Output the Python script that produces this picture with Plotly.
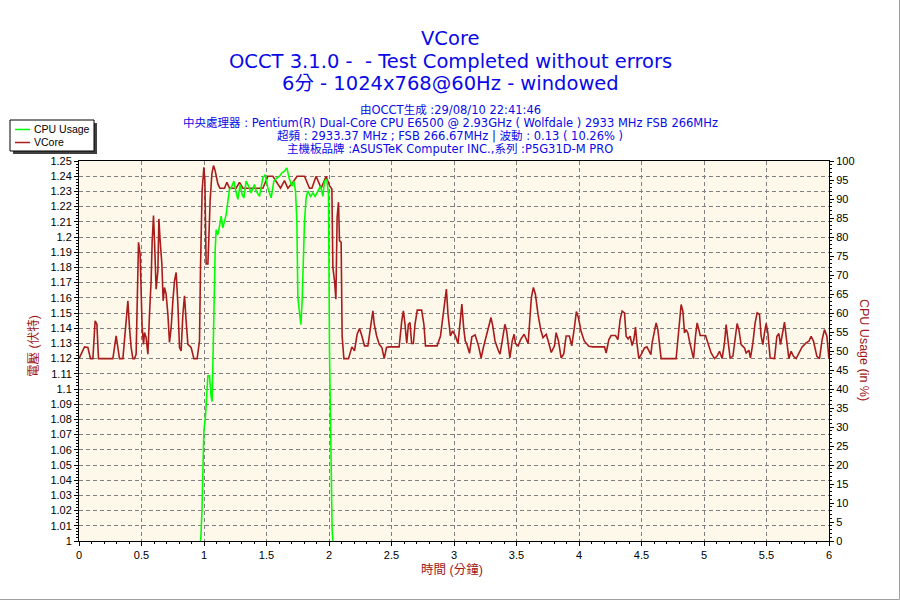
import plotly.graph_objects as go

# ---------------- data ----------------
time_vcore = [
    0.0, 0.044, 0.071, 0.092, 0.111, 0.129, 0.143, 0.156, 0.271, 0.297,
    0.311, 0.324, 0.351, 0.369, 0.391, 0.404, 0.417, 0.431, 0.444, 0.457,
    0.476, 0.489, 0.497, 0.505, 0.516, 0.524, 0.537, 0.551, 0.564, 0.577,
    0.585, 0.596, 0.604, 0.617, 0.631, 0.639, 0.649, 0.663, 0.673, 0.684,
    0.697, 0.711, 0.724, 0.737, 0.751, 0.764, 0.777, 0.791, 0.804, 0.817,
    0.831, 0.844, 0.857, 0.871, 0.897, 0.919, 0.945, 0.964, 0.972, 0.985,
    0.999, 1.007, 1.017, 1.031, 1.039, 1.049, 1.063, 1.076, 1.089, 1.111,
    1.127, 1.164, 1.183, 1.204, 1.231, 1.257, 1.284, 1.311, 1.471, 1.511,
    1.551, 1.591, 1.612, 1.644, 1.671, 1.711, 1.745, 1.804, 1.844, 1.863,
    1.897, 1.937, 1.977, 2.004, 2.023, 2.031, 2.044, 2.055, 2.065, 2.076,
    2.084, 2.097, 2.105, 2.119, 2.156, 2.183, 2.204, 2.225, 2.244, 2.263,
    2.284, 2.311, 2.329, 2.351, 2.362, 2.381, 2.402, 2.423, 2.442, 2.46,
    2.481, 2.561, 2.582, 2.595, 2.608, 2.622, 2.635, 2.648, 2.661, 2.675,
    2.688, 2.706, 2.741, 2.759, 2.772, 2.865, 2.892, 2.91, 2.926, 2.939,
    2.952, 2.971, 2.989, 3.011, 3.032, 3.05, 3.063, 3.077, 3.09, 3.103,
    3.124, 3.143, 3.169, 3.196, 3.217, 3.235, 3.262, 3.275, 3.296, 3.31,
    3.328, 3.354, 3.368, 3.386, 3.407, 3.421, 3.434, 3.447, 3.466, 3.481,
    3.492, 3.513, 3.534, 3.561, 3.593, 3.601, 3.619, 3.635, 3.651, 3.672,
    3.693, 3.712, 3.738, 3.757, 3.778, 3.804, 3.817, 3.836, 3.857, 3.878,
    3.897, 3.923, 3.942, 3.963, 3.979, 3.995, 4.016, 4.042, 4.079, 4.111,
    4.204, 4.217, 4.239, 4.257, 4.292, 4.311, 4.329, 4.345, 4.364, 4.377,
    4.393, 4.409, 4.425, 4.439, 4.452, 4.463, 4.479, 4.497, 4.524, 4.543,
    4.564, 4.575, 4.585, 4.604, 4.617, 4.631, 4.644, 4.657, 4.777, 4.791,
    4.804, 4.817, 4.831, 4.844, 4.857, 4.871, 4.884, 4.903, 4.916, 4.932,
    4.945, 4.959, 4.969, 5.012, 5.031, 5.057, 5.084, 5.103, 5.124, 5.145,
    5.164, 5.177, 5.191, 5.209, 5.231, 5.252, 5.265, 5.279, 5.297, 5.324,
    5.337, 5.359, 5.372, 5.391, 5.409, 5.425, 5.444, 5.457, 5.471, 5.484,
    5.497, 5.511, 5.529, 5.564, 5.583, 5.599, 5.612, 5.631, 5.644, 5.657,
    5.679, 5.697, 5.716, 5.737, 5.764, 5.785, 5.817, 5.839, 5.857, 5.876,
    5.903, 5.924, 5.945, 5.964, 5.983, 6.0,
]
vcore = [
    1.12, 1.1277, 1.1273, 1.12, 1.12, 1.1448, 1.1426, 1.12, 1.12, 1.1349,
    1.1273, 1.12, 1.12, 1.1349, 1.158, 1.1404, 1.1273, 1.12, 1.12, 1.1229,
    1.1965, 1.1888, 1.1558, 1.1404, 1.1294, 1.1371, 1.1338, 1.1229, 1.1492, 1.1712,
    1.1965, 1.2141, 1.1976, 1.1657, 1.1778, 1.2119, 1.1976, 1.1822, 1.158, 1.1668,
    1.1624, 1.1492, 1.1306, 1.1404, 1.158, 1.1712, 1.1767, 1.1558, 1.1273, 1.1251,
    1.1492, 1.1613, 1.1448, 1.1294, 1.1273, 1.12, 1.12, 1.1316, 1.18, 1.2305,
    1.2459, 1.2371, 1.1822, 1.1822, 1.1998, 1.224, 1.2415, 1.247, 1.2437, 1.2349,
    1.2321, 1.2321, 1.236, 1.2321, 1.2321, 1.2321, 1.236, 1.2321, 1.2321, 1.24,
    1.24, 1.2349, 1.2321, 1.2371, 1.2321, 1.236, 1.24, 1.24, 1.2321, 1.2321,
    1.24, 1.2321, 1.24, 1.2338, 1.2316, 1.18, 1.1712, 1.1591, 1.213, 1.2229,
    1.1976, 1.1965, 1.1349, 1.12, 1.12, 1.1277, 1.1251, 1.136, 1.1398, 1.1349,
    1.1284, 1.1284, 1.1382, 1.1514, 1.1426, 1.1349, 1.1294, 1.1273, 1.12, 1.1273,
    1.1277, 1.1277, 1.1448, 1.1514, 1.1426, 1.1299, 1.1426, 1.1437, 1.1299, 1.1299,
    1.1426, 1.1519, 1.1519, 1.1426, 1.1284, 1.1284, 1.1349, 1.147, 1.158, 1.1657,
    1.1492, 1.1349, 1.1382, 1.1349, 1.1299, 1.1448, 1.1558, 1.1404, 1.1316, 1.1294,
    1.1235, 1.1343, 1.1356, 1.1284, 1.1204, 1.1273, 1.136, 1.1404, 1.147, 1.1415,
    1.1316, 1.1255, 1.1229, 1.1316, 1.1426, 1.1382, 1.1284, 1.1204, 1.1316, 1.136,
    1.1299, 1.1284, 1.1327, 1.136, 1.1299, 1.1404, 1.1602, 1.1668, 1.1624, 1.1492,
    1.1393, 1.1338, 1.136, 1.1306, 1.124, 1.1284, 1.1371, 1.1316, 1.1204, 1.1231,
    1.1349, 1.1349, 1.1284, 1.1404, 1.151, 1.147, 1.1382, 1.1316, 1.1281, 1.1277,
    1.1277, 1.1237, 1.1325, 1.1352, 1.1352, 1.1325, 1.1457, 1.1512, 1.1501, 1.1347,
    1.133, 1.1347, 1.1286, 1.1325, 1.1407, 1.1303, 1.12, 1.1226, 1.127, 1.1277,
    1.1248, 1.1226, 1.1303, 1.138, 1.1435, 1.1391, 1.1303, 1.12, 1.12, 1.1325,
    1.1479, 1.1556, 1.1512, 1.1369, 1.1391, 1.1369, 1.1314, 1.1237, 1.12, 1.1347,
    1.1435, 1.1391, 1.1352, 1.1352, 1.1303, 1.1237, 1.12, 1.1215, 1.1248, 1.12,
    1.1303, 1.1424, 1.1325, 1.1204, 1.1215, 1.1347, 1.1431, 1.1391, 1.1292, 1.127,
    1.1237, 1.1255, 1.1204, 1.1303, 1.1435, 1.1501, 1.149, 1.1347, 1.1292, 1.1369,
    1.1431, 1.1369, 1.1204, 1.12, 1.1347, 1.1365, 1.1292, 1.138, 1.144, 1.1347,
    1.12, 1.1248, 1.1215, 1.12, 1.1248, 1.1277, 1.1303, 1.1314, 1.1347, 1.1314,
    1.1215, 1.12, 1.1325, 1.1391, 1.1347, 1.12,
]

time_cpu = [
    0.972, 0.975, 0.983, 0.991, 0.999, 1.012, 1.017, 1.025, 1.031, 1.044,
    1.049, 1.057, 1.065, 1.068, 1.079, 1.089, 1.097, 1.111, 1.124, 1.137,
    1.151, 1.164, 1.177, 1.191, 1.204, 1.217, 1.239, 1.252, 1.271, 1.289,
    1.305, 1.319, 1.337, 1.356, 1.377, 1.404, 1.417, 1.444, 1.471, 1.489,
    1.511, 1.537, 1.559, 1.577, 1.604, 1.623, 1.644, 1.663, 1.684, 1.703,
    1.719, 1.732, 1.743, 1.751, 1.764, 1.775, 1.785, 1.796, 1.804, 1.817,
    1.831, 1.852, 1.871, 1.889, 1.911, 1.932, 1.951, 1.964, 1.983, 1.996,
    2.004, 2.015, 2.025, 2.031,
]
cpu_usage = [
    0, 1, 7.3, 19.6, 29, 33, 36, 40, 43.5, 43.5,
    40, 38, 36.7, 42, 62.2, 76.2, 81.9, 80.6, 82.8, 85.5,
    82.4, 84.6, 85.9, 89.4, 92.5, 92.9, 94.7, 92.5, 89.9, 93.8,
    91.2, 90.3, 94.7, 93.4, 91.6, 93.8, 92.1, 90.7, 95.6, 96.4,
    92.9, 90.3, 94.7, 95.4, 96.0, 96.9, 97.3, 98.2, 95.1, 93.4,
    94.7, 92.1, 84.1, 63.9, 60.4, 56.9, 63.1, 76.2, 84.1, 90.3,
    92.1, 90.7, 91.6, 90.7, 92.1, 93.4, 90.7, 94.7, 95.1, 91.2,
    49.9, 23.1, 2.9, 0,
]

series_names = ["CPU Usage", "VCore"]
title_lines = [
    "VCore",
    "OCCT 3.1.0 -  - Test Completed without errors",
    "6分 - 1024x768@60Hz - windowed",
]
info_lines = [
    "由OCCT生成 :29/08/10 22:41:46",
    "中央處理器 : Pentium(R) Dual-Core CPU E6500 @ 2.93GHz ( Wolfdale ) 2933 MHz FSB 266MHz",
    "超頻 : 2933.37 MHz ; FSB 266.67MHz | 波動 : 0.13 ( 10.26% )",
    "主機板品牌 :ASUSTeK Computer INC.,系列 :P5G31D-M PRO",
]
x_title = "時間 (分鐘)"
y_title = "電壓 (伏特)"
y2_title = "CPU Usage (in %)"

# ---------------- style ----------------
RED = "#A81C1C"
GREEN = "#00FF00"
BLUE = "#0A0AE6"
TITLE_RED = "#A01818"
CREAM = "#FDF8EA"
GRID = "#808080"
TICK_FONT = "Liberation Sans, Arial, Noto Sans CJK TC"
TITLE_FONT = "DejaVu Sans, Noto Sans CJK TC"

W, H = 900, 600
L, R, T, B = 79, 829, 161, 541


def fx(px):
    return (px - L) / (R - L)


def fy(py):
    return (B - py) / (B - T)


fig = go.Figure()
fig.add_trace(go.Scatter(x=time_vcore, y=vcore, mode="lines", name=series_names[1],
                         line=dict(color=RED, width=1.6), showlegend=False, yaxis="y"))
fig.add_trace(go.Scatter(x=time_cpu, y=cpu_usage, mode="lines", name=series_names[0],
                         line=dict(color=GREEN, width=1.6), showlegend=False, yaxis="y2"))

annotations = []
title_y = [38, 61, 84]
for txt, py in zip(title_lines, title_y):
    annotations.append(dict(text=txt, x=fx(450), y=fy(py), xref="paper", yref="paper",
                            xanchor="center", yanchor="middle", showarrow=False,
                            font=dict(family=TITLE_FONT, size=19.5, color=BLUE)))
info_y = [110, 123, 136, 149]
for txt, py in zip(info_lines, info_y):
    annotations.append(dict(text=txt, x=fx(450), y=fy(py), xref="paper", yref="paper",
                            xanchor="center", yanchor="middle", showarrow=False,
                            font=dict(family=TITLE_FONT, size=11.5, color=BLUE)))
# axis titles
annotations.append(dict(text=x_title, x=fx(452), y=fy(569), xref="paper", yref="paper",
                        xanchor="center", yanchor="middle", showarrow=False,
                        font=dict(family=TICK_FONT, size=12.5, color=TITLE_RED)))
annotations.append(dict(text=y_title, x=fx(33), y=fy(346), xref="paper", yref="paper",
                        xanchor="center", yanchor="middle", showarrow=False, textangle=-90,
                        font=dict(family=TICK_FONT, size=12.5, color=TITLE_RED)))
annotations.append(dict(text=y2_title, x=fx(864), y=fy(350), xref="paper", yref="paper",
                        xanchor="center", yanchor="middle", showarrow=False, textangle=90,
                        font=dict(family=TICK_FONT, size=12.5, color=TITLE_RED)))
# legend texts
leg_y = [129.5, 142.5]
for name, py in zip(series_names, leg_y):
    annotations.append(dict(text=name, x=fx(32), y=fy(py), xref="paper", yref="paper",
                            xanchor="left", yanchor="middle", showarrow=False,
                            font=dict(family=TICK_FONT, size=10.5, color="black")))

shapes = [
    # legend shadow and box
    dict(type="rect", xref="paper", yref="paper", x0=fx(13), x1=fx(97), y0=fy(154), y1=fy(123),
         fillcolor="#404040", line=dict(width=0), layer="above"),
    dict(type="rect", xref="paper", yref="paper", x0=fx(10), x1=fx(94), y0=fy(151), y1=fy(120),
         fillcolor="white", line=dict(color="black", width=1), layer="above"),
    dict(type="line", xref="paper", yref="paper", x0=fx(15), x1=fx(30), y0=fy(leg_y[0]), y1=fy(leg_y[0]),
         line=dict(color=GREEN, width=1.5), layer="above"),
    dict(type="line", xref="paper", yref="paper", x0=fx(15), x1=fx(30), y0=fy(leg_y[1]), y1=fy(leg_y[1]),
         line=dict(color=RED, width=1.5), layer="above"),
    # outer frame (right and bottom gray border)
    dict(type="line", xref="paper", yref="paper", x0=fx(0), x1=fx(899.5), y0=fy(599.5), y1=fy(599.5),
         line=dict(color="#A0A0A0", width=1), layer="above"),
    dict(type="line", xref="paper", yref="paper", x0=fx(899.5), x1=fx(899.5), y0=fy(0), y1=fy(599.5),
         line=dict(color="#A0A0A0", width=1), layer="above"),
]

axis_common = dict(showline=True, linecolor="black", linewidth=1, ticks="outside",
                   tickcolor="black", ticklen=4, zeroline=False,
                   tickfont=dict(family=TICK_FONT, size=11, color="black"))

fig.update_layout(
    width=W, height=H,
    margin=dict(l=L, r=W - R, t=T, b=H - B, pad=0),
    paper_bgcolor="white", plot_bgcolor=CREAM,
    showlegend=False,
    xaxis=dict(range=[0, 6], tick0=0, dtick=0.5, showgrid=True, gridcolor=GRID,
               griddash="4px,3px", gridwidth=1, mirror=True,
               minor=dict(dtick=0.1, ticks="outside", ticklen=2, tickcolor="black", showgrid=False),
               **axis_common),
    yaxis=dict(range=[1, 1.25], tick0=1, dtick=0.01, showgrid=True, gridcolor=GRID,
               griddash="4px,3px", gridwidth=1,
               minor=dict(dtick=0.002, ticks="outside", ticklen=2, tickcolor="black", showgrid=False),
               **axis_common),
    yaxis2=dict(range=[0, 100], tick0=0, dtick=5, overlaying="y", side="right", showgrid=False,
                minor=dict(dtick=1, ticks="outside", ticklen=2, tickcolor="black", showgrid=False),
                **axis_common),
    annotations=annotations,
    shapes=shapes,
)

fig.write_html("out.html")
